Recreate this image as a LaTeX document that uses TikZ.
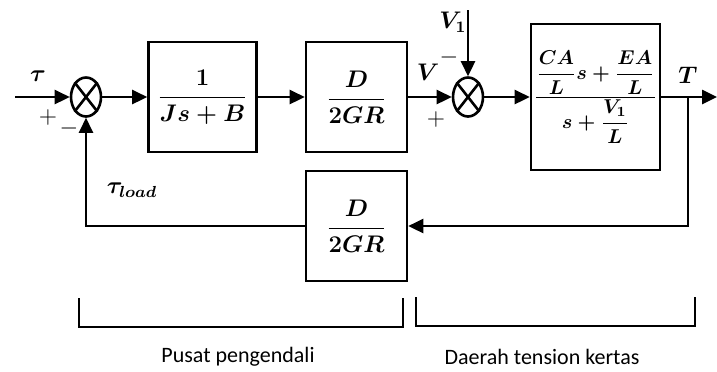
\documentclass[tikz,border=0pt]{standalone}
\usepackage{amsmath}
\usepackage{fontspec}
\setmainfont{Carlito}
\usetikzlibrary{shapes.geometric, arrows.meta, positioning}
\tikzstyle{block} = [rectangle, draw, line width=1.3pt, text centered, font=\large]
\tikzstyle{junction} = [ellipse, draw, line width=1.3pt, minimum width=15pt, minimum height=19.5pt, inner sep=0pt]
\tikzstyle{arrow} = [line width=1.3pt, -{Triangle[length=7.5pt,width=7pt]}]
\tikzstyle{line} = [line width=1.3pt]
\tikzstyle{sign} = [font=\large, inner sep=0pt]
\tikzstyle{region} = [font=\fontsize{11}{13}\selectfont]

\begin{document}
\begin{tikzpicture}[x=0.5pt, y=-0.5pt]
        \useasboundingbox (0,0) rectangle (717,371);
        % forward path
        \node[junction] (sum1) at (86,97) {};
        \draw[line] (sum1.north east) -- (sum1.south west) (sum1.north west) -- (sum1.south east);
        \node[block, minimum width=54pt, minimum height=55pt] (plant) at (202.5,97) {$\boldsymbol{\dfrac{1}{Js+B}}$};
        \node[block, minimum width=50.5pt, minimum height=55pt] (gear) at (356.5,97) {$\boldsymbol{\dfrac{D}{2GR}}$};
        \node[junction] (sum2) at (468,97) {};
        \draw[line] (sum2.north east) -- (sum2.south west) (sum2.north west) -- (sum2.south east);
        \node[block, font=\normalsize, inner sep=1pt, minimum width=64.5pt, minimum height=73pt] (web) at (595.5,97) {$\boldsymbol{\dfrac{\dfrac{CA}{L}s+\dfrac{EA}{L}}{s+\dfrac{V_1}{L}}}$};
        % feedback path
        \node[block, minimum width=50.5pt, minimum height=55pt] (fb) at (356.5,226) {$\boldsymbol{\dfrac{D}{2GR}}$};

        \coordinate (in) at (15,97);
        \coordinate (out) at (717,97);
        \coordinate (tap) at (688,97);
        \coordinate (vin) at (468,10);

        \draw[arrow] (in) -- (sum1);
        \draw[arrow] (sum1) -- (plant);
        \draw[arrow] (plant) -- (gear);
        \draw[arrow] (gear) -- (sum2);
        \draw[arrow] (vin) -- (sum2);
        \draw[arrow] (sum2) -- (web);
        \draw[arrow] (web) -- (out);
        \draw[arrow] (tap) |- (fb);
        \draw[arrow] (fb) -| (sum1);

        % signal labels
        \node[sign] (tau) at (38,76) {$\boldsymbol{\tau}$};
        \node[sign] (plus1) at (48,117) {$+$};
        \node[sign] (minus1) at (69,128) {$-$};
        \node[sign] (tauload) at (132,190) {$\boldsymbol{\tau_{load}}$};
        \node[sign] (vlab) at (428,72) {$\boldsymbol{V}$};
        \node[sign] (minus2) at (449,57) {$-$};
        \node[sign] (plus2) at (436,119) {$+$};
        \node[sign] (vonelab) at (453,22) {$\boldsymbol{V_1}$};
        \node[sign] (tlab) at (688,75) {$\boldsymbol{T}$};

        % regions
        \draw[line] (79,298) |- (403,327) -- (403,298);
        \draw[line] (416,297) |- (695,326) -- (695,297);
        \node[region] (ctrl) at (238,357) {Pusat pengendali};
        \node[region] (paper) at (542,357) {Daerah tension kertas};
    \end{tikzpicture}
\end{document}
